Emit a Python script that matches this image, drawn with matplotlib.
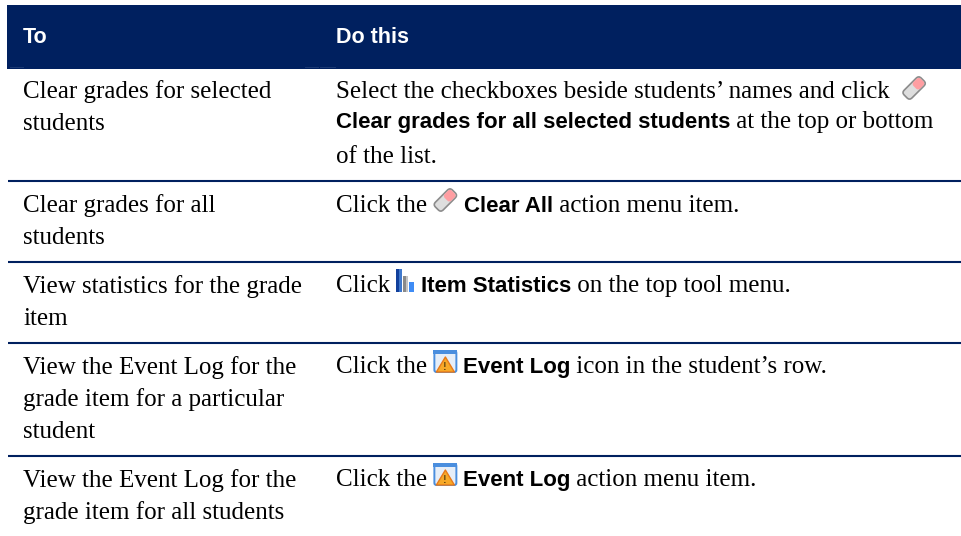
import matplotlib
matplotlib.use('Agg')
import matplotlib.pyplot as plt
from matplotlib.patches import Rectangle, Polygon, FancyBboxPatch
from matplotlib.transforms import Affine2D

NAVY = '#00205f'
SERIF = 'Liberation Serif'
SANS = 'Liberation Sans'
BODY_PT = 18
BOLD_PT = 16
HEAD_PT = 15.5

headers = ['To', 'Do this']

to_lines = [
    ['Clear grades for selected', 'students'],
    ['Clear grades for all', 'students'],
    ['View statistics for the grade', 'item'],
    ['View the Event Log for the', 'grade item for a particular', 'student'],
    ['View the Event Log for the', 'grade item for all students'],
]

# runs: (text, bold) or icon name
do_lines = [
    [[('Select the checkboxes beside students\u2019 names and click  ', 0), 'eraser_low'],
     [('Clear grades for all selected students', 1), (' at the top or bottom', 0)],
     [('of the list.', 0)]],
    [[('Click the ', 0), 'eraser', (' ', 0), ('Clear All', 1), (' action menu item.', 0)]],
    [[('Click ', 0), 'bars', (' ', 0), ('Item Statistics', 1), (' on the top tool menu.', 0)]],
    [[('Click the ', 0), 'log', (' ', 0), ('Event Log', 1), (' icon in the student\u2019s row.', 0)]],
    [[('Click the ', 0), 'log', (' ', 0), ('Event Log', 1), (' action menu item.', 0)]],
]

# text baselines in pixels
to_base = [98, 212, 293, 374, 487]
do_base = [[98, 128, 163], [212], [292], [373], [486]]
row_rules = [180.5, 261.5, 343, 456]
to_line_gap = 32

fig = plt.figure(figsize=(9.61, 5.36), dpi=100)
ax = fig.add_axes([0, 0, 1, 1])
ax.set_xlim(0, 961)
ax.set_ylim(536, 0)
ax.axis('off')

ax.add_patch(Rectangle((7, 5), 954, 64, color=NAVY, lw=0))
# faint leftovers along the bottom of the header
for x0, x1 in [(10, 23), (305, 318), (320, 335)]:
    ax.plot([x0, x1], [66.5, 66.5], color='#1c3a74', lw=0.7)

ax.text(23, 43, headers[0], color='white', family=SANS, weight='bold', fontsize=HEAD_PT, va='baseline')
ax.text(336, 43, headers[1], color='white', family=SANS, weight='bold', fontsize=HEAD_PT, va='baseline')

for y in row_rules:
    ax.plot([8, 961], [y, y], color=NAVY, lw=1.5, solid_capstyle='butt')


def eraser(x, y):
    # tilted pill, y is the text baseline
    cx, cy = x + 12, y - 12
    rot = Affine2D().rotate_deg_around(cx, cy, -45) + ax.transData
    ax.add_patch(FancyBboxPatch((cx - 12, cy - 5.5), 24, 11, boxstyle='round,pad=0,rounding_size=3.5',
                                fc='#dedede', ec='#8c8c8c', lw=1.2, transform=rot))
    ax.add_patch(FancyBboxPatch((cx + 1, cy - 4.7), 10.2, 9.4, boxstyle='round,pad=0,rounding_size=2.8',
                                fc='#ff9ea2', ec='none', lw=0, transform=rot))
    return 24


def eraser_low(x, y):
    return eraser(x, y + 2)


def bars(x, y):
    ax.add_patch(Rectangle((x, y - 23), 3, 23, color='#12409c', lw=0))
    ax.add_patch(Rectangle((x + 3, y - 23), 3, 23, color='#3f78cc', lw=0))
    ax.add_patch(Rectangle((x + 7, y - 16), 3, 16, color='#8a8a8a', lw=0))
    ax.add_patch(Rectangle((x + 10, y - 16), 2, 16, color='#c4c4c4', lw=0))
    ax.add_patch(Rectangle((x + 13, y - 10), 5, 10, color='#3f8cf5', lw=0))
    return 18


def log(x, y):
    ax.add_patch(FancyBboxPatch((x + 1, y - 22), 22, 21, boxstyle='round,pad=0,rounding_size=2',
                                fc='#e6eef8', ec='#4a8ede', lw=1.4))
    ax.add_patch(Rectangle((x, y - 23), 24, 4, color='#4a8ede', lw=0))
    ax.add_patch(Polygon([(x + 3, y - 1), (x + 12, y - 16), (x + 21, y - 1)], closed=True,
                         fc='#f7a928', ec='#e8791a', lw=1, joinstyle='round'))
    ax.text(x + 12, y - 6, '!', color='#6a4a10', family=SANS, weight='bold', fontsize=8,
            ha='center', va='center')
    return 23


icons = {'eraser': eraser, 'eraser_low': eraser_low, 'bars': bars, 'log': log}
renderer = fig.canvas.get_renderer()


def draw_runs(x, y, runs):
    for r in runs:
        if isinstance(r, str):
            x += icons[r](x, y)
            continue
        s, b = r
        t = ax.text(x, y, s, family=SANS if b else SERIF, weight='bold' if b else 'normal',
                    fontsize=BOLD_PT if b else BODY_PT, color='black', va='baseline')
        x += t.get_window_extent(renderer).width


for i, lines in enumerate(to_lines):
    for j, s in enumerate(lines):
        ax.text(23, to_base[i] + j * to_line_gap, s, family=SERIF, fontsize=BODY_PT,
                color='black', va='baseline')

for i, lines in enumerate(do_lines):
    for j, runs in enumerate(lines):
        draw_runs(336, do_base[i][j], runs)

fig.savefig('out.png', dpi=100)
